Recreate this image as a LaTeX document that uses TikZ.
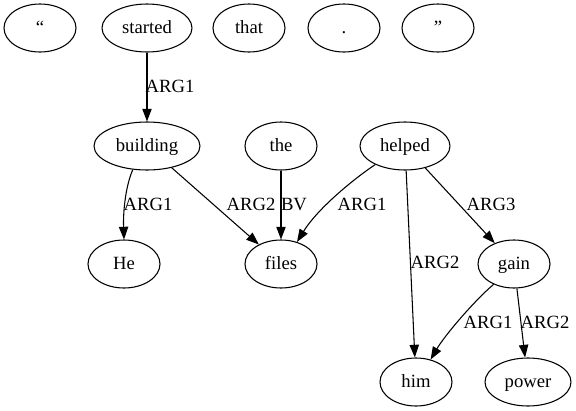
\documentclass[tikz,border=0pt]{standalone}
\usepackage{fontspec}
\setmainfont{Liberation Serif}
\usetikzlibrary{arrows.meta,shapes.geometric}
\begin{document}
\begin{tikzpicture}[x=0.75pt,y=-0.75pt,
  word/.style={draw, ellipse, line width=0.8pt, inner sep=0pt,
    minimum width=54pt, minimum height=36pt,
    text height=11pt, text depth=2.6pt, font=\fontsize{14}{16}\selectfont},
  rel/.style={draw, line width=0.8pt, -{Triangle[length=9.5pt,width=7pt]}},
  lab/.style={inner sep=0pt, text height=11pt, text depth=2.6pt,
    font=\fontsize{14}{16}\selectfont}]
\useasboundingbox (0,0) rectangle (576,411);

% tokens
\node[word] (q1) at (40,28) {“};
\node[word, minimum width=67.5pt] (started) at (147,28) {started};
\node[word] (that) at (249,28) {that};
\node[word] (dot) at (344,28) {.};
\node[word] (q2) at (438,28) {”};

\node[word, minimum width=79.5pt] (building) at (147,146) {building};
\node[word] (the) at (281,146) {the};
\node[word, minimum width=67.5pt] (helped) at (405,146) {helped};

\node[word] (He) at (124,264) {He};
\node[word] (files) at (281,264) {files};
\node[word] (gain) at (514,264) {gain};

\node[word] (him) at (416,382) {him};
\node[word, minimum width=64.5pt] (power) at (528,382) {power};

% dependencies
\draw[rel] (started) -- (building);
\draw[rel] (building.239) .. controls (126,185) and (123,210) .. (He.north);
\draw[rel] (building) -- (files);
\draw[rel] (the) -- (files);
\draw[rel] (helped.212) .. controls (355,178) and (318,208) .. (files.54);
\draw[rel] (helped) -- (him);
\draw[rel] (helped) -- (gain);
\draw[rel] (gain.225) .. controls (475,300) and (445,335) .. (him.57);
\draw[rel] (gain) -- (power);

% relation labels
\node[lab] (l1) at (170,87) {ARG1};
\node[lab] (l2) at (148,205) {ARG1};
\node[lab] (l3) at (251,205) {ARG2};
\node[lab] (l4) at (294,205) {BV};
\node[lab] (l5) at (362,205) {ARG1};
\node[lab] (l6) at (435,263) {ARG2};
\node[lab] (l7) at (491,205) {ARG3};
\node[lab] (l8) at (488,323) {ARG1};
\node[lab] (l9) at (545,323) {ARG2};
\end{tikzpicture}
\end{document}
